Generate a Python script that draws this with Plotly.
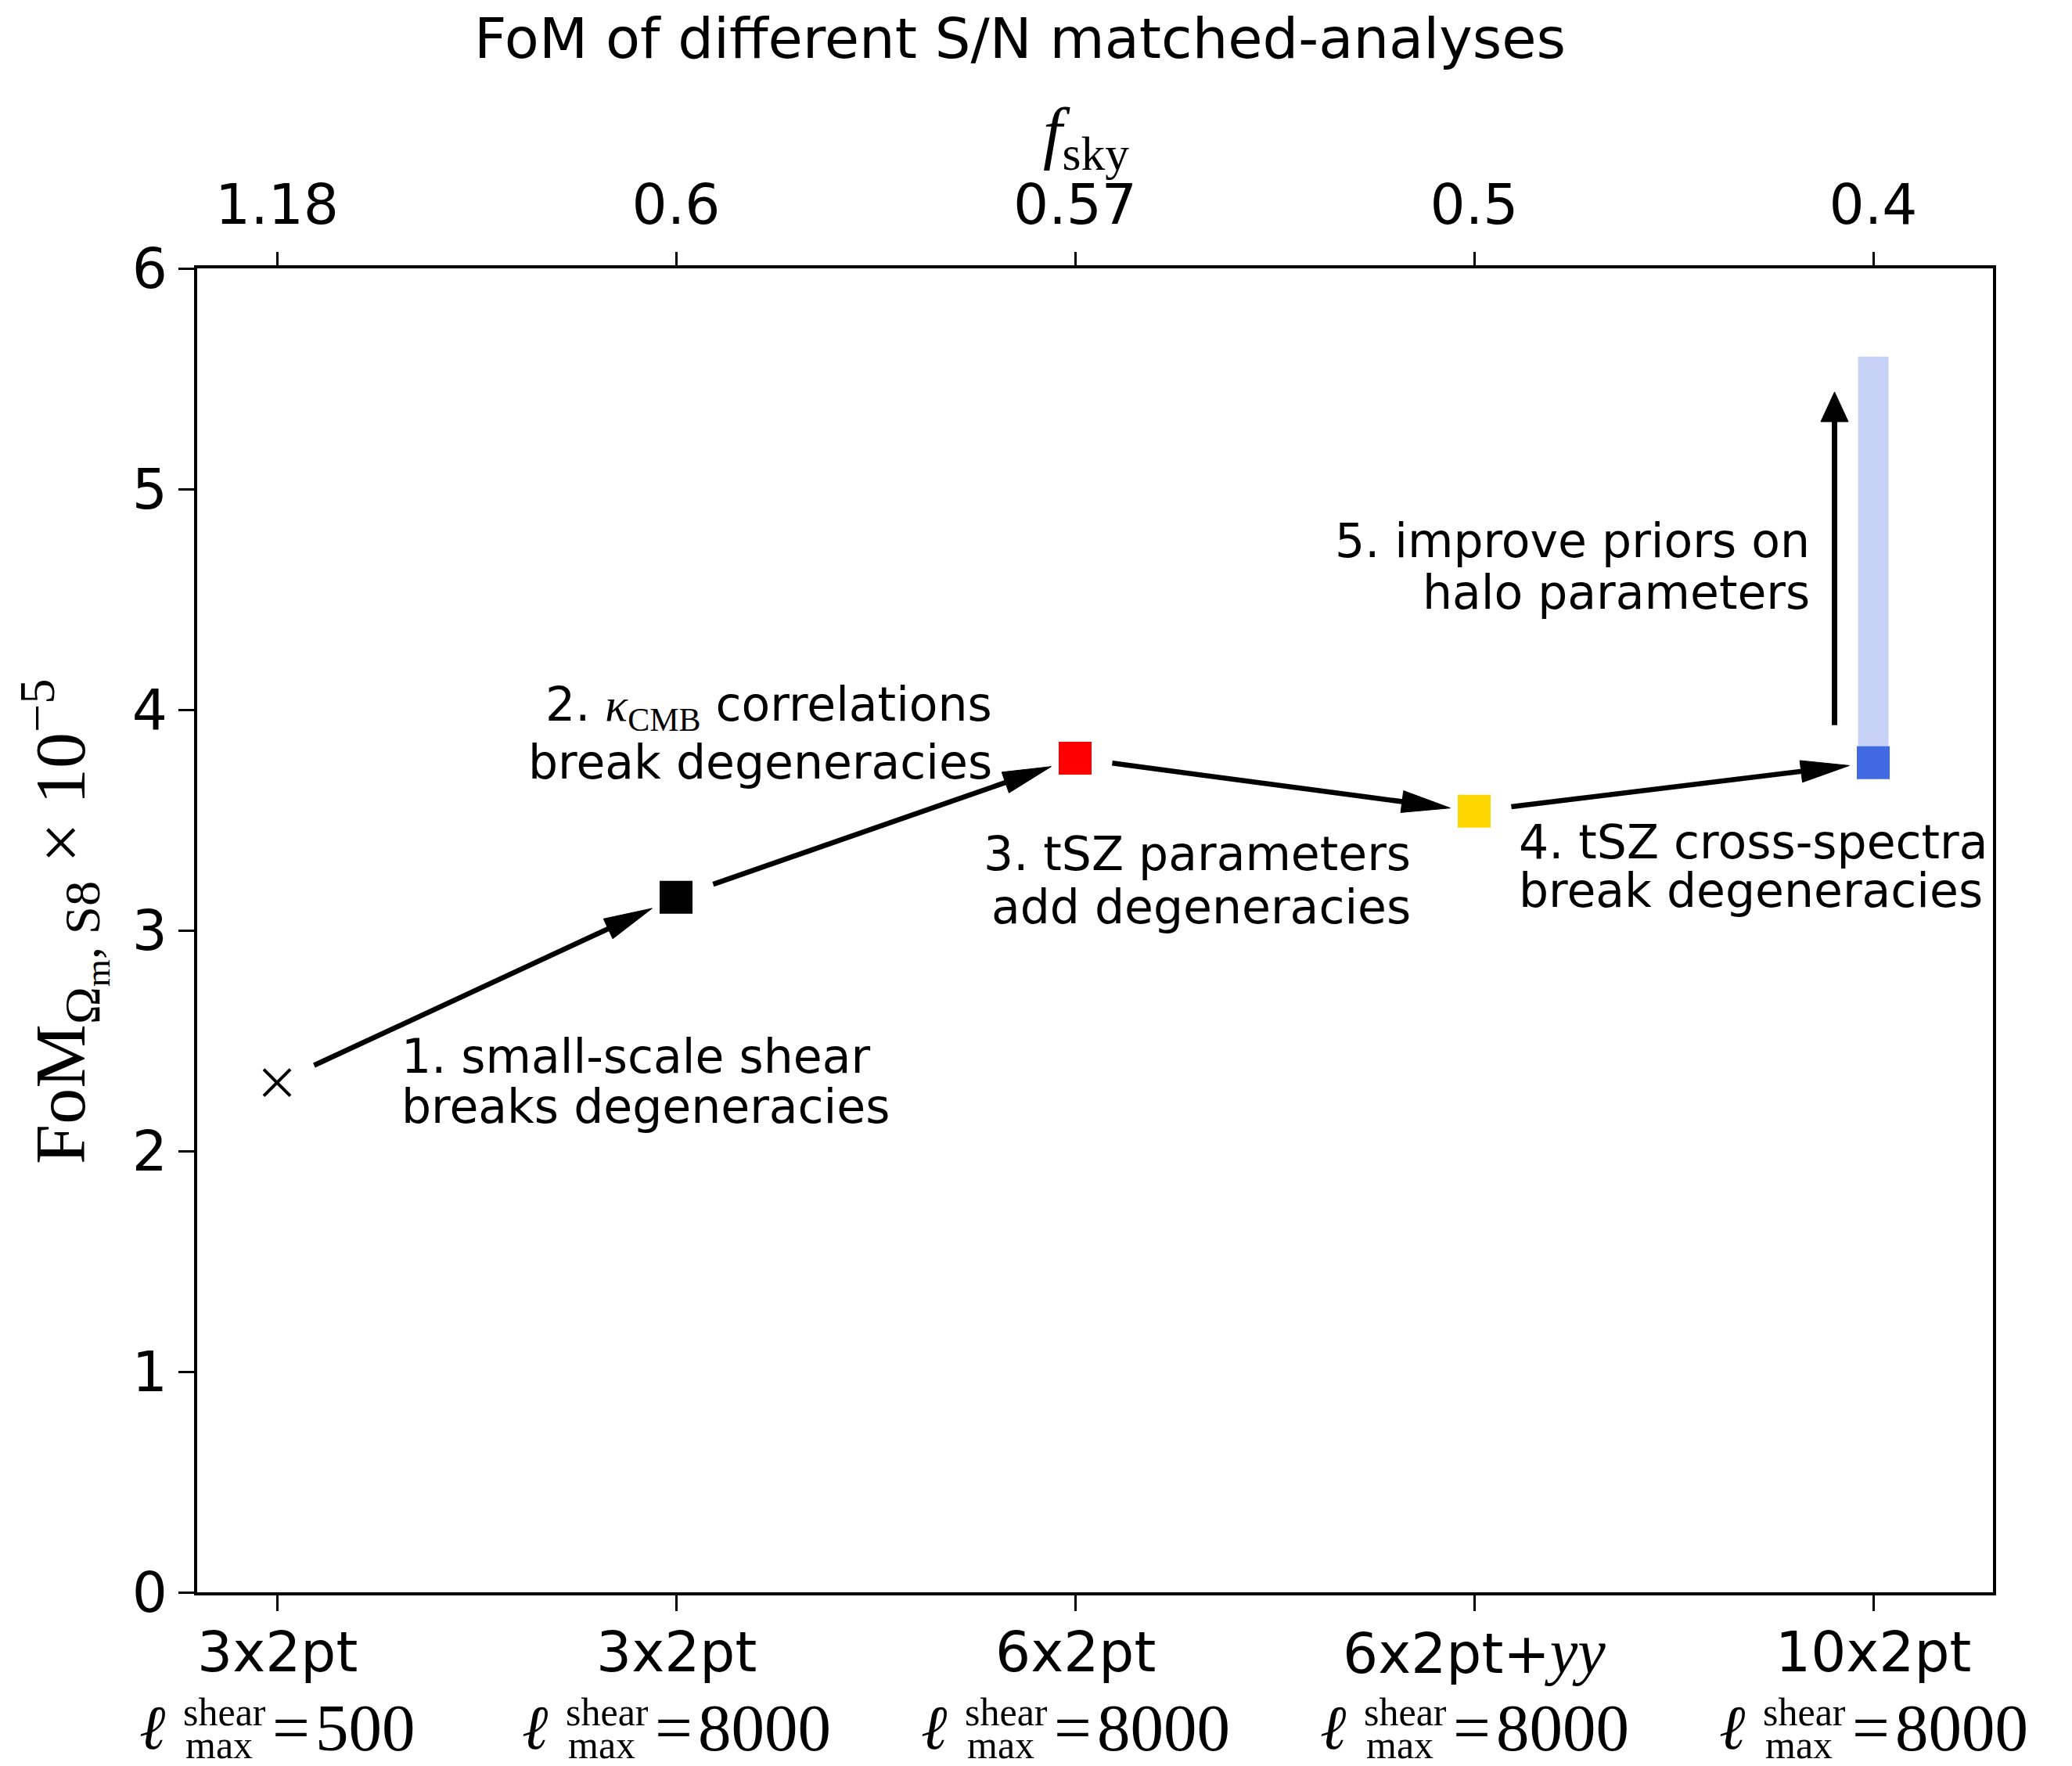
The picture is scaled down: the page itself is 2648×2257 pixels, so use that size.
import math
import plotly.graph_objects as go

# ---- data -------------------------------------------------------------
analyses = ["3x2pt", "3x2pt", "6x2pt", "6x2pt+<i>yy</i>", "10x2pt"]
ell_max_shear = ["500", "8000", "8000", "8000", "8000"]
f_sky = ["1.18", "0.6", "0.57", "0.5", "0.4"]
fom = [2.31, 3.15, 3.78, 3.54, 3.76]          # FoM x 1e-5
fom_better_priors = 5.60                       # reach of 10x2pt with improved halo priors
marker_colors = ["black", "black", "red", "gold", "royalblue"]
marker_symbols = ["x-thin", "square", "square", "square", "square"]

step_notes = [
    # (x, y, text, xanchor)
    (0.307, 2.429, "1. small-scale shear", "left"),
    (0.307, 2.202, "breaks degeneracies", "left"),
    (1.797, 4.010, "2. <span style='font-family:Liberation Serif'><i>κ</i><sub>CMB</sub></span> correlations", "right"),
    (1.797, 3.763, "break degeneracies", "right"),
    (2.846, 3.347, "3. tSZ parameters", "right"),
    (2.846, 3.108, "add degeneracies", "right"),
    (3.108, 3.401, "4. tSZ cross-spectra", "left"),
    (3.108, 3.180, "break degeneracies", "left"),
    (3.846, 4.767, "5. improve priors on", "right"),
    (3.846, 4.533, "halo parameters", "right"),
]

# ---- layout geometry ----------------------------------------------------
W, H = 2648, 2257
ML, MR, MT, MB = 252, 101, 343, 222
X_RANGE = [-0.2, 4.3]
Y_RANGE = [0, 6]
PX_X = (W - ML - MR) / (X_RANGE[1] - X_RANGE[0])
PX_Y = (H - MT - MB) / (Y_RANGE[1] - Y_RANGE[0])

SANS = "DejaVu Sans"
SERIF = "Liberation Serif, DejaVu Serif, serif"
SCRIPT_L = "DejaVu Serif"

xs = list(range(len(fom)))
fig = go.Figure()


def add_arrow(x0, y0, x1, y1, head_len, head_w, shaft_w):
    """Shaft plus filled triangular head, head sized in screen pixels."""
    dxp, dyp = (x1 - x0) * PX_X, (y1 - y0) * PX_Y
    L = math.hypot(dxp, dyp)
    ux, uy = dxp / L, dyp / L
    bx = x1 - head_len * ux / PX_X
    by = y1 - head_len * uy / PX_Y
    nx, ny = -uy, ux
    c1 = (bx + nx * head_w / 2 / PX_X, by + ny * head_w / 2 / PX_Y)
    c2 = (bx - nx * head_w / 2 / PX_X, by - ny * head_w / 2 / PX_Y)
    fig.add_trace(go.Scatter(
        x=[x0, bx + 0.3 * (x1 - bx)], y=[y0, by + 0.3 * (y1 - by)], mode="lines",
        line=dict(color="black", width=shaft_w), hoverinfo="skip", showlegend=False))
    fig.add_trace(go.Scatter(
        x=[x1, c1[0], c2[0], x1], y=[y1, c1[1], c2[1], y1], mode="lines",
        fill="toself", fillcolor="black", line=dict(color="black", width=1),
        hoverinfo="skip", showlegend=False))


# invisible companion trace so the top f_sky axis is drawn
fig.add_trace(go.Scatter(x=xs, y=[None] * len(xs), xaxis="x2", mode="lines",
                         hoverinfo="skip", showlegend=False))

# improved-priors range for the 10x2pt analysis
fig.add_trace(go.Scatter(
    x=[xs[-1], xs[-1]], y=[fom[-1], fom_better_priors], mode="lines",
    line=dict(color="#c6d2f6", width=39), hoverinfo="skip", showlegend=False))

# arrows between successive analyses
T0, T1 = 0.093, 0.94
for i in range(len(fom) - 1):
    xa = xs[i] + T0 * (xs[i + 1] - xs[i])
    ya = fom[i] + T0 * (fom[i + 1] - fom[i])
    xb = xs[i] + T1 * (xs[i + 1] - xs[i])
    yb = fom[i] + T1 * (fom[i + 1] - fom[i])
    add_arrow(xa, ya, xb, yb, head_len=62, head_w=28, shaft_w=6.5)

# vertical arrow: better halo priors
add_arrow(xs[-1] - 0.097, fom[-1] + 0.17, xs[-1] - 0.097, fom_better_priors - 0.16,
          head_len=38, head_w=35, shaft_w=7)

# analysis markers
for i in xs:
    fig.add_trace(go.Scatter(
        x=[xs[i]], y=[fom[i]], mode="markers",
        marker=dict(symbol=marker_symbols[i], color=marker_colors[i], opacity=1,
                    size=34 if i == 0 else 42,
                    line=dict(color=marker_colors[i], width=4 if i == 0 else 0)),
        opacity=1, hoverinfo="skip", showlegend=False))

annotations = []
for x, y, txt, xa in step_notes:
    annotations.append(dict(x=x, y=y, xref="x", yref="y", text=txt, showarrow=False,
                            xanchor=xa, yanchor="middle",
                            font=dict(family=SANS, size=60, color="black")))

# bottom category labels (two lines each)
for i, name in enumerate(analyses):
    annotations.append(dict(x=xs[i], y=0, xref="x", yref="paper", text=name.replace(
        "<i>yy</i>", "<span style='font-family:Liberation Serif;font-size:80px'><i>yy</i></span>"),
        showarrow=False, xanchor="center", yanchor="middle", yshift=-76,
        font=dict(family=SANS, size=71, color="black")))
    wid = 221 + 42.5 * len(ell_max_shear[i])
    x0 = -wid / 2
    parts = [
        ("<i>ℓ</i>", 80, SCRIPT_L, x0 - 4, -172, "left"),
        ("shear", 50, SERIF, x0 + 52, -153, "left"),
        ("max", 50, SERIF, x0 + 55, -195, "left"),
        ("=", 85, SERIF, x0 + 192, -173, "center"),
        (ell_max_shear[i], 85, SERIF, x0 + 221, -173, "left"),
    ]
    for txt, sz, fam, xs_, ys_, xa in parts:
        annotations.append(dict(x=xs[i], y=0, xref="x", yref="paper", text=txt,
                                showarrow=False, xanchor=xa, yanchor="middle",
                                xshift=xs_, yshift=ys_,
                                font=dict(family=fam, size=sz, color="black")))

# y-axis label
annotations.append(dict(
    x=(81 - ML) / (W - ML - MR), y=(H - MB - 1178) / (H - MT - MB), xref="paper", yref="paper",
    text="FoM<sub>Ω<sub>m</sub>, S8</sub> × 10<sup>−5</sup>", textangle=-90, showarrow=False,
    xanchor="center", yanchor="middle", font=dict(family=SERIF, size=92, color="black")))

# top axis label
annotations.append(dict(
    x=0.495, y=1, xref="paper", yref="paper", yshift=168,
    text="<i>f</i><sub>sky</sub>", showarrow=False, xanchor="center", yanchor="middle",
    font=dict(family=SERIF, size=88, color="black")))

# title
annotations.append(dict(
    x=(1303 - ML) / (W - ML - MR), y=1, xref="paper", yref="paper", yshift=MT - 49,
    text="FoM of different S/N matched-analyses", showarrow=False,
    xanchor="center", yanchor="middle", font=dict(family=SANS, size=72, color="black")))

axis_common = dict(showgrid=False, zeroline=False, ticks="outside", ticklen=20,
                   tickwidth=3, tickcolor="black")

fig.update_layout(
    width=W, height=H,
    margin=dict(l=ML, r=MR, t=MT, b=MB, pad=0),
    paper_bgcolor="white", plot_bgcolor="white",
    showlegend=False,
    xaxis=dict(range=X_RANGE, tickvals=xs, showticklabels=False,
               showline=True, linewidth=3.5, linecolor="black", mirror=True,
               **axis_common),
    xaxis2=dict(range=X_RANGE, overlaying="x", side="top", anchor="y",
                tickvals=xs, ticktext=f_sky, showline=False, ticklabelstandoff=8,
                tickfont=dict(family=SANS, size=71, color="black"), **axis_common),
    yaxis=dict(range=Y_RANGE, tickvals=list(range(7)),
               showline=True, linewidth=3.5, linecolor="black", mirror=True,
               tickfont=dict(family=SANS, size=71, color="black"), **axis_common),
    annotations=annotations,
)

fig.write_html("out.html")
